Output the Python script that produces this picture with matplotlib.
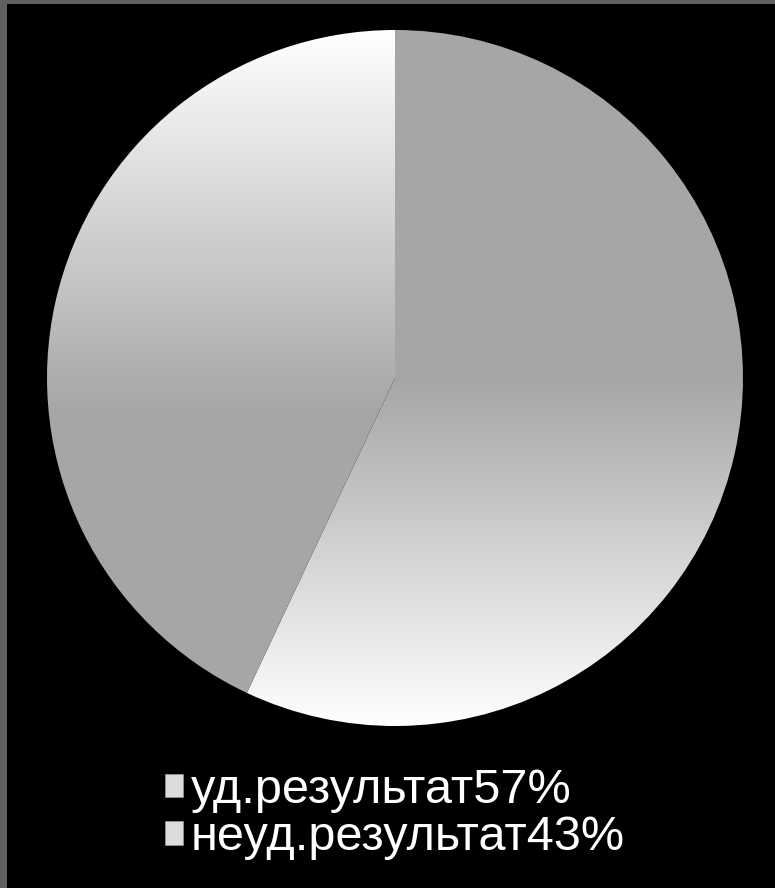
import numpy as np
import matplotlib
matplotlib.use("Agg")
import matplotlib.pyplot as plt
from matplotlib.colors import LinearSegmentedColormap
from matplotlib.patches import Patch, Rectangle

# data
categories = ["уд.результат", "неуд.результат"]
values = [57, 43]
labels = [f"{c}{v}%" for c, v in zip(categories, values)]

plt.rcParams["font.family"] = ["Liberation Sans", "DejaVu Sans"]

W, H = 775, 888
fig = plt.figure(figsize=(W / 100, H / 100), dpi=100, facecolor="black")

# grey frame on the left and top edges
frame = "#606060"
fig.patches.append(Rectangle((0, 0), 7 / W, 1, transform=fig.transFigure,
                             facecolor=frame, edgecolor="none"))
fig.patches.append(Rectangle((0, 1 - 4 / H), 1, 4 / H, transform=fig.transFigure,
                             facecolor=frame, edgecolor="none"))

# pie centre (395, 378) px, radius 348 px
cx, cy, r = 395, 378, 348
ax = fig.add_axes([(cx - r) / W, (H - cy - r) / H, 2 * r / W, 2 * r / H])
ax.set_facecolor("black")

wedges, _ = ax.pie(values, startangle=90, counterclock=False,
                   wedgeprops=dict(linewidth=0))
ax.set_xlim(-1, 1)
ax.set_ylim(-1, 1)
ax.axis("off")

grey = LinearSegmentedColormap.from_list("g", ["#a6a6a6", "#ffffff"])
yy = np.linspace(-1, 1, 400)[:, None]
ramps = [
    np.clip(-yy, 0, 1),               # grey on top, white at the bottom
    np.clip((yy + 0.1) / 1.1, 0, 1),  # grey at the bottom, white on top
]
for w, ramp in zip(wedges, ramps):
    w.set_facecolor("none")
    im = ax.imshow(ramp, cmap=grey, vmin=0, vmax=1, origin="lower",
                   extent=[-1, 1, -1, 1], aspect="auto", zorder=0.5)
    im.set_clip_path(w)

handles = [Patch(facecolor="#dcdcdc", edgecolor="#9a9a9a", linewidth=0.5)
           for _ in labels]
fig.legend(handles, labels, loc="upper left",
           bbox_to_anchor=(165 / W, 1 - 768 / H), frameon=False,
           fontsize=35, labelcolor="white", handlelength=0.36,
           handleheight=0.36, handletextpad=0.17, labelspacing=0.05,
           borderpad=0, borderaxespad=0)

fig.savefig("out.png", dpi=100, facecolor="black")
